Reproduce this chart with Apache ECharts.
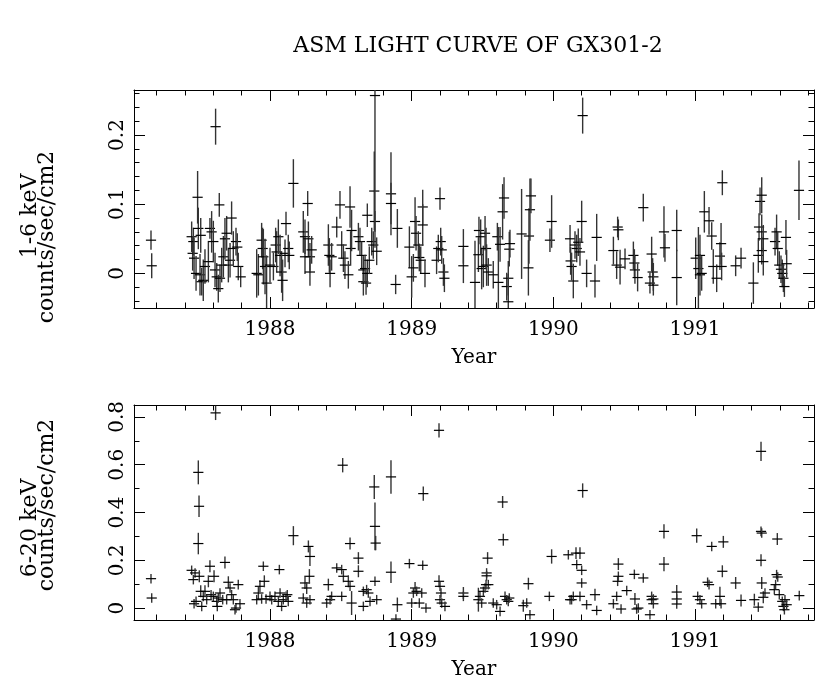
<!DOCTYPE html>
<html lang="en">
<head>
  <meta charset="UTF-8">
  <title>ASM light curve of GX301-2</title>
  <script src="https://cdn.jsdelivr.net/npm/echarts@6.0.0/dist/echarts.min.js"></script>
  <style>html, body { margin: 0; background: #fff; }</style>
</head>
<body>
  <div id="main" style="width: 822px; height: 692px;"></div>

  <script type="text/javascript">
    // tick values and labels
    const yearTicks = [1988, 1989, 1990, 1991];
    const yearMinor = [1987.2, 1987.4, 1987.6, 1987.8, 1988.2, 1988.4, 1988.6, 1988.8,
      1989.2, 1989.4, 1989.6, 1989.8, 1990.2, 1990.4, 1990.6, 1990.8,
      1991.2, 1991.4, 1991.6, 1991.8];
    const softTicks = [0, 0.1, 0.2];
    const softMinor = [-0.04, -0.02, 0.02, 0.04, 0.06, 0.08, 0.12, 0.14, 0.16, 0.18, 0.22, 0.24, 0.26];
    const hardTicks = [0, 0.2, 0.4, 0.6, 0.8];
    const hardMinor = [0.1, 0.3, 0.5, 0.7];

    // 1-6 keV : [year, rate, error]
    const softPoints = [
      [1987.160, 0.048, 0.014], [1987.165, 0.011, 0.018], [1987.447, 0.053, 0.022], [1987.454, 0.029, 0.025],
      [1987.459, 0.046, 0.020], [1987.464, 0.022, 0.030], [1987.478, 0.000, 0.025], [1987.489, 0.110, 0.038],
      [1987.494, 0.065, 0.030], [1987.506, -0.002, 0.030], [1987.511, 0.055, 0.025], [1987.518, -0.012, 0.020],
      [1987.529, -0.010, 0.030], [1987.541, 0.010, 0.025], [1987.565, 0.017, 0.030], [1987.576, 0.065, 0.015],
      [1987.588, 0.060, 0.030], [1987.600, 0.046, 0.030], [1987.612, 0.005, 0.025], [1987.616, 0.212, 0.026],
      [1987.624, -0.005, 0.020], [1987.635, -0.022, 0.020], [1987.642, 0.099, 0.017], [1987.647, -0.007, 0.020],
      [1987.659, 0.012, 0.025], [1987.671, 0.024, 0.030], [1987.682, 0.050, 0.030], [1987.694, 0.058, 0.025],
      [1987.706, 0.012, 0.025], [1987.718, 0.019, 0.025], [1987.729, 0.080, 0.024], [1987.741, 0.036, 0.025],
      [1987.760, 0.046, 0.020], [1987.769, 0.038, 0.020], [1987.776, 0.010, 0.020], [1987.793, -0.005, 0.015],
      [1987.906, 0.000, 0.035], [1987.918, -0.002, 0.030], [1987.941, 0.048, 0.025], [1987.948, 0.036, 0.030],
      [1987.953, 0.024, 0.040], [1987.965, 0.010, 0.040], [1987.976, -0.014, 0.040], [1988.000, 0.012, 0.025],
      [1988.024, 0.010, 0.020], [1988.040, 0.041, 0.025], [1988.047, 0.031, 0.030], [1988.059, 0.053, 0.025],
      [1988.071, 0.026, 0.030], [1988.082, 0.002, 0.030], [1988.089, -0.010, 0.030], [1988.106, 0.029, 0.020],
      [1988.113, 0.072, 0.017], [1988.129, 0.036, 0.020], [1988.136, 0.026, 0.020], [1988.165, 0.130, 0.035],
      [1988.235, 0.060, 0.030], [1988.247, 0.053, 0.025], [1988.247, 0.024, 0.025], [1988.266, 0.101, 0.018],
      [1988.271, 0.050, 0.025], [1988.282, 0.024, 0.020], [1988.282, 0.002, 0.020], [1988.294, 0.034, 0.020],
      [1988.412, 0.041, 0.030], [1988.419, 0.026, 0.025], [1988.424, 0.000, 0.020], [1988.435, 0.024, 0.020],
      [1988.471, 0.067, 0.015], [1988.494, 0.099, 0.020], [1988.506, 0.041, 0.020], [1988.518, 0.022, 0.020],
      [1988.529, 0.012, 0.020], [1988.553, -0.002, 0.020], [1988.565, 0.096, 0.030], [1988.569, 0.036, 0.025],
      [1988.576, 0.062, 0.030], [1988.624, 0.053, 0.020], [1988.635, 0.046, 0.020], [1988.647, 0.026, 0.020],
      [1988.659, -0.012, 0.020], [1988.659, 0.005, 0.020], [1988.671, 0.007, 0.020], [1988.678, -0.014, 0.017],
      [1988.687, 0.000, 0.020], [1988.687, 0.084, 0.017], [1988.701, 0.019, 0.020], [1988.718, 0.046, 0.020],
      [1988.729, 0.041, 0.020], [1988.736, 0.119, 0.057], [1988.741, 0.075, 0.015], [1988.741, 0.257, 0.220],
      [1988.753, 0.032, 0.020], [1988.854, 0.115, 0.060], [1988.854, 0.101, 0.030], [1988.887, -0.016, 0.014],
      [1988.899, 0.065, 0.028], [1988.984, 0.038, 0.030], [1989.000, -0.005, 0.030], [1989.012, 0.008, 0.020],
      [1989.024, 0.075, 0.035], [1989.031, 0.058, 0.025], [1989.047, 0.041, 0.020], [1989.054, 0.023, 0.020],
      [1989.064, 0.019, 0.020], [1989.078, 0.096, 0.025], [1989.078, 0.070, 0.030], [1989.094, 0.000, 0.020],
      [1989.176, 0.019, 0.020], [1989.188, 0.036, 0.020], [1989.200, 0.108, 0.016], [1989.205, 0.046, 0.020],
      [1989.212, 0.034, 0.020], [1989.224, 0.002, 0.020], [1989.231, -0.007, 0.020], [1989.365, 0.039, 0.025],
      [1989.365, 0.011, 0.025], [1989.447, -0.013, 0.060], [1989.471, 0.027, 0.025], [1989.475, 0.062, 0.020],
      [1989.487, 0.053, 0.025], [1989.494, 0.007, 0.030], [1989.506, 0.010, 0.030], [1989.518, 0.058, 0.025],
      [1989.525, 0.036, 0.030], [1989.529, 0.012, 0.030], [1989.541, 0.002, 0.020], [1989.576, -0.002, 0.020],
      [1989.605, 0.053, 0.020], [1989.612, -0.013, 0.080], [1989.624, 0.042, 0.025], [1989.642, 0.089, 0.040],
      [1989.652, 0.109, 0.030], [1989.671, -0.019, 0.020], [1989.682, -0.007, 0.025], [1989.682, -0.041, 0.040],
      [1989.689, 0.035, 0.025], [1989.694, 0.043, 0.020], [1989.776, 0.057, 0.065], [1989.824, 0.008, 0.040],
      [1989.828, 0.054, 0.040], [1989.835, 0.092, 0.045], [1989.842, 0.112, 0.025], [1989.976, 0.048, 0.017],
      [1989.988, 0.075, 0.038], [1990.118, 0.050, 0.020], [1990.122, 0.018, 0.020], [1990.129, 0.010, 0.020],
      [1990.141, -0.011, 0.025], [1990.153, 0.041, 0.020], [1990.165, 0.036, 0.020], [1990.176, 0.045, 0.020],
      [1990.188, 0.031, 0.020], [1990.200, 0.075, 0.030], [1990.207, 0.228, 0.026], [1990.235, 0.000, 0.020],
      [1990.294, -0.011, 0.024], [1990.306, 0.052, 0.034], [1990.424, 0.033, 0.020], [1990.447, 0.012, 0.020],
      [1990.454, 0.067, 0.015], [1990.459, 0.063, 0.015], [1990.471, 0.009, 0.025], [1990.506, 0.021, 0.015],
      [1990.565, 0.026, 0.020], [1990.572, 0.015, 0.020], [1990.576, 0.005, 0.020], [1990.595, -0.006, 0.020],
      [1990.635, 0.095, 0.020], [1990.682, -0.014, 0.015], [1990.694, 0.028, 0.025], [1990.701, 0.002, 0.020],
      [1990.706, -0.005, 0.020], [1990.706, -0.017, 0.015], [1990.781, 0.060, 0.037], [1990.788, 0.037, 0.020],
      [1990.871, 0.062, 0.030], [1990.871, -0.006, 0.040], [1991.005, 0.022, 0.030], [1991.024, 0.007, 0.060],
      [1991.035, 0.026, 0.030], [1991.035, -0.002, 0.030], [1991.047, 0.000, 0.025], [1991.066, 0.089, 0.030],
      [1991.099, 0.076, 0.020], [1991.118, 0.054, 0.020], [1991.129, 0.010, 0.025], [1991.153, -0.007, 0.020],
      [1991.176, 0.025, 0.020], [1991.184, 0.043, 0.030], [1991.188, 0.010, 0.020], [1991.193, 0.131, 0.018],
      [1991.287, 0.011, 0.015], [1991.325, 0.022, 0.015], [1991.412, -0.014, 0.030], [1991.447, 0.026, 0.025],
      [1991.452, 0.067, 0.020], [1991.459, 0.104, 0.020], [1991.471, 0.113, 0.026], [1991.471, 0.060, 0.025],
      [1991.482, 0.050, 0.020], [1991.471, 0.033, 0.020], [1991.482, 0.017, 0.020], [1991.565, 0.046, 0.020],
      [1991.576, 0.060, 0.025], [1991.584, 0.036, 0.025], [1991.595, 0.012, 0.020], [1991.607, 0.006, 0.020],
      [1991.616, 0.000, 0.020], [1991.624, -0.007, 0.020], [1991.631, -0.019, 0.015], [1991.642, 0.052, 0.025],
      [1991.647, 0.014, 0.020], [1991.734, 0.120, 0.043]
    ];

    // 6-20 keV : [year, rate, error]
    const hardPoints = [
      [1987.160, 0.123, 0.02], [1987.165, 0.042, 0.02], [1987.447, 0.158, 0.02], [1987.459, 0.119, 0.02],
      [1987.471, 0.147, 0.02], [1987.464, 0.018, 0.02], [1987.478, 0.028, 0.02], [1987.494, 0.568, 0.05],
      [1987.499, 0.426, 0.045], [1987.494, 0.270, 0.045], [1987.501, 0.133, 0.025], [1987.511, 0.070, 0.025],
      [1987.518, 0.007, 0.02], [1987.529, 0.049, 0.02], [1987.541, 0.070, 0.025], [1987.553, 0.035, 0.02],
      [1987.565, 0.112, 0.025], [1987.576, 0.175, 0.025], [1987.584, 0.056, 0.02], [1987.600, 0.049, 0.02],
      [1987.605, 0.133, 0.025], [1987.616, 0.817, 0.03], [1987.624, 0.028, 0.02], [1987.628, 0.007, 0.02],
      [1987.635, 0.042, 0.02], [1987.647, 0.063, 0.02], [1987.666, 0.035, 0.02], [1987.682, 0.191, 0.025],
      [1987.694, 0.035, 0.02], [1987.706, 0.108, 0.025], [1987.718, 0.084, 0.02], [1987.729, 0.056, 0.02],
      [1987.741, 0.035, 0.02], [1987.753, -0.007, 0.02], [1987.760, 0.000, 0.02], [1987.776, 0.098, 0.02],
      [1987.788, 0.018, 0.02], [1987.906, 0.035, 0.02], [1987.918, 0.063, 0.025], [1987.929, 0.091, 0.025],
      [1987.941, 0.038, 0.02], [1987.953, 0.175, 0.02], [1987.960, 0.112, 0.025], [1987.972, 0.038, 0.02],
      [1988.000, 0.049, 0.02], [1988.012, 0.035, 0.02], [1988.035, 0.049, 0.02], [1988.059, 0.028, 0.02],
      [1988.066, 0.161, 0.02], [1988.071, 0.063, 0.02], [1988.082, 0.007, 0.02], [1988.094, 0.035, 0.02],
      [1988.113, 0.049, 0.02], [1988.122, 0.056, 0.02], [1988.129, 0.028, 0.02], [1988.165, 0.303, 0.04],
      [1988.235, 0.042, 0.02], [1988.247, 0.105, 0.025], [1988.259, 0.084, 0.025], [1988.259, 0.021, 0.02],
      [1988.271, 0.258, 0.025], [1988.278, 0.133, 0.03], [1988.282, 0.216, 0.04], [1988.282, 0.035, 0.02],
      [1988.400, 0.021, 0.02], [1988.412, 0.098, 0.025], [1988.424, 0.035, 0.02], [1988.435, 0.049, 0.02],
      [1988.471, 0.168, 0.02], [1988.506, 0.161, 0.02], [1988.506, 0.049, 0.02], [1988.513, 0.598, 0.03],
      [1988.518, 0.133, 0.025], [1988.553, 0.112, 0.025], [1988.565, 0.270, 0.025], [1988.565, 0.091, 0.02],
      [1988.576, 0.021, 0.05], [1988.624, 0.209, 0.025], [1988.624, 0.154, 0.025], [1988.659, 0.070, 0.02],
      [1988.659, 0.007, 0.02], [1988.682, 0.077, 0.02], [1988.694, 0.063, 0.02], [1988.706, 0.028, 0.02],
      [1988.741, 0.112, 0.02], [1988.753, 0.035, 0.02], [1988.736, 0.507, 0.05], [1988.741, 0.342, 0.1],
      [1988.746, 0.272, 0.03], [1988.854, 0.549, 0.07], [1988.854, 0.150, 0.045], [1988.889, -0.046, 0.02],
      [1988.899, 0.014, 0.03], [1988.984, 0.186, 0.02], [1989.000, 0.021, 0.02], [1989.012, 0.063, 0.02],
      [1989.024, 0.084, 0.025], [1989.035, 0.070, 0.02], [1989.054, 0.021, 0.02], [1989.071, 0.063, 0.02],
      [1989.078, 0.179, 0.02], [1989.082, 0.479, 0.03], [1989.101, 0.000, 0.02], [1989.193, 0.744, 0.03],
      [1989.193, 0.112, 0.025], [1989.200, 0.091, 0.02], [1989.207, 0.063, 0.02], [1989.200, 0.035, 0.02],
      [1989.212, 0.021, 0.02], [1989.235, 0.007, 0.02], [1989.365, 0.063, 0.025], [1989.365, 0.049, 0.02],
      [1989.471, 0.035, 0.05], [1989.482, 0.049, 0.02], [1989.494, 0.021, 0.02], [1989.506, 0.070, 0.02],
      [1989.518, 0.084, 0.02], [1989.525, 0.098, 0.02], [1989.529, 0.147, 0.02], [1989.529, 0.135, 0.02],
      [1989.536, 0.209, 0.025], [1989.541, 0.098, 0.02], [1989.576, 0.021, 0.02], [1989.600, 0.014, 0.02],
      [1989.624, -0.014, 0.02], [1989.642, 0.444, 0.025], [1989.647, 0.286, 0.025], [1989.659, 0.049, 0.02],
      [1989.671, 0.035, 0.02], [1989.682, 0.028, 0.02], [1989.689, 0.042, 0.02], [1989.788, 0.010, 0.025],
      [1989.812, 0.021, 0.02], [1989.824, 0.102, 0.025], [1989.835, -0.028, 0.02], [1989.972, 0.049, 0.02],
      [1989.988, 0.216, 0.03], [1990.106, 0.223, 0.02], [1990.118, 0.035, 0.02], [1990.129, 0.035, 0.02],
      [1990.141, 0.049, 0.02], [1990.160, 0.230, 0.025], [1990.165, 0.182, 0.02], [1990.188, 0.230, 0.025],
      [1990.200, 0.158, 0.02], [1990.207, 0.492, 0.03], [1990.200, 0.105, 0.02], [1990.188, 0.049, 0.02],
      [1990.235, 0.014, 0.02], [1990.294, 0.056, 0.025], [1990.306, -0.010, 0.02], [1990.424, 0.018, 0.02],
      [1990.447, 0.049, 0.02], [1990.454, 0.112, 0.02], [1990.459, 0.133, 0.02], [1990.459, 0.184, 0.025],
      [1990.478, -0.004, 0.02], [1990.518, 0.073, 0.02], [1990.572, 0.141, 0.02], [1990.576, 0.038, 0.025],
      [1990.588, -0.004, 0.02], [1990.600, 0.000, 0.02], [1990.635, 0.126, 0.02], [1990.682, -0.028, 0.02],
      [1990.694, 0.049, 0.02], [1990.694, 0.035, 0.02], [1990.706, 0.018, 0.02], [1990.706, 0.038, 0.02],
      [1990.781, 0.321, 0.03], [1990.781, 0.184, 0.03], [1990.871, 0.067, 0.03], [1990.871, 0.038, 0.02],
      [1990.871, 0.017, 0.02], [1991.012, 0.303, 0.03], [1991.019, 0.049, 0.02], [1991.035, 0.035, 0.02],
      [1991.047, 0.018, 0.02], [1991.089, 0.108, 0.02], [1991.099, 0.098, 0.02], [1991.118, 0.258, 0.02],
      [1991.146, 0.018, 0.02], [1991.176, 0.049, 0.04], [1991.184, 0.018, 0.02], [1991.193, 0.154, 0.025],
      [1991.200, 0.277, 0.025], [1991.287, 0.105, 0.025], [1991.325, 0.032, 0.025], [1991.419, 0.035, 0.025],
      [1991.447, 0.004, 0.02], [1991.466, 0.656, 0.04], [1991.466, 0.321, 0.02], [1991.471, 0.314, 0.02],
      [1991.466, 0.200, 0.025], [1991.471, 0.105, 0.025], [1991.482, 0.045, 0.025], [1991.494, 0.063, 0.02],
      [1991.560, 0.077, 0.02], [1991.569, 0.098, 0.02], [1991.576, 0.140, 0.02], [1991.584, 0.130, 0.02],
      [1991.581, 0.289, 0.025], [1991.595, 0.056, 0.02], [1991.616, 0.028, 0.02], [1991.624, 0.007, 0.02],
      [1991.631, -0.007, 0.02], [1991.635, 0.035, 0.02], [1991.647, 0.014, 0.02], [1991.736, 0.052, 0.02]
    ];

    const FONT = 'DejaVu Serif';
    const XERR = 0.036; // half width of the time bins, years

    let myChart = echarts.init(document.getElementById('main'));

    // one axis of the frame: major ticks + labels, or only minor ticks
    function xAxis(grid, pos, ticks, len, labels) {
      return {
        type: 'value', gridIndex: grid, position: pos, min: 1987.04, max: 1991.84,
        axisLine: { show: len > 6, onZero: false, lineStyle: { color: '#000', width: 1 } },
        axisTick: { show: true, inside: true, length: len, customValues: ticks, lineStyle: { color: '#000' } },
        axisLabel: labels ? {
          show: true, customValues: ticks, margin: 12, color: '#000', fontFamily: FONT, fontSize: 20,
          formatter: v => String(v)
        } : { show: false },
        splitLine: { show: false },
        name: labels ? 'Year' : '', nameLocation: 'middle', nameGap: 40,
        nameTextStyle: { color: '#000', fontFamily: FONT, fontSize: 20 }
      };
    }

    function yAxis(grid, pos, range, ticks, len, labels) {
      return {
        type: 'value', gridIndex: grid, position: pos, min: range[0], max: range[1],
        axisLine: { show: len > 6, onZero: false, lineStyle: { color: '#000', width: 1 } },
        axisTick: { show: true, inside: true, length: len, customValues: ticks, lineStyle: { color: '#000' } },
        axisLabel: labels ? {
          show: true, customValues: ticks, rotate: 90, margin: 6, color: '#000', fontFamily: FONT, fontSize: 20,
          formatter: v => String(v)
        } : { show: false },
        splitLine: { show: false }
      };
    }

    function frameX(grid) {
      return [
        xAxis(grid, 'bottom', yearTicks, 11, true),
        xAxis(grid, 'bottom', yearMinor, 5.5, false),
        xAxis(grid, 'top', yearTicks, 11, false),
        xAxis(grid, 'top', yearMinor, 5.5, false)
      ];
    }

    function frameY(grid, range, major, minor) {
      return [
        yAxis(grid, 'left', range, major, 11, true),
        yAxis(grid, 'left', range, minor, 5.5, false),
        yAxis(grid, 'right', range, major, 11, false),
        yAxis(grid, 'right', range, minor, 5.5, false)
      ];
    }

    // error cross: vertical rate error, horizontal bin width
    function drawCross(params, api) {
      const x = api.value(0), y = api.value(1), e = api.value(2);
      const c = api.coord([x, y]);
      const hi = api.coord([x, y + e]);
      const lo = api.coord([x, y - e]);
      const l = api.coord([x - XERR, y]);
      const r = api.coord([x + XERR, y]);
      return {
        type: 'group',
        children: [
          { type: 'line', shape: { x1: c[0], y1: lo[1], x2: c[0], y2: hi[1] },
            style: { stroke: '#333', lineWidth: 1.4 } },
          { type: 'line', shape: { x1: l[0], y1: c[1], x2: r[0], y2: c[1] },
            style: { stroke: '#000', lineWidth: 1.2 } }
        ]
      };
    }

    const yTitles = [
      ['1-6 keV', 30, 216], ['counts/sec/cm2', 47, 237],
      ['6-20 keV', 30, 528], ['counts/sec/cm2', 47, 505]
    ];

    const options = {
      animation: false,
      backgroundColor: '#fff',
      title: {
        text: 'ASM LIGHT CURVE OF GX301-2', left: 473, top: 30, textAlign: 'center',
        textStyle: { color: '#000', fontFamily: FONT, fontSize: 22, fontWeight: 'normal' }
      },
      graphic: yTitles.map(t => ({
        type: 'text', x: t[1], y: t[2], rotation: Math.PI / 2,
        style: { text: t[0], fill: '#000', font: '22px "DejaVu Serif"', align: 'center', verticalAlign: 'middle' }
      })),
      grid: [
        { left: 134, top: 90, width: 680, height: 218 },
        { left: 134, top: 405, width: 680, height: 215 }
      ],
      xAxis: frameX(0).concat(frameX(1)),
      yAxis: frameY(0, [-0.05, 0.265], softTicks, softMinor)
        .concat(frameY(1, [-0.05, 0.85], hardTicks, hardMinor)),
      series: [
        { name: '1-6 keV', type: 'custom', xAxisIndex: 0, yAxisIndex: 0, clip: true, silent: true,
          encode: { x: 0, y: 1 }, data: softPoints, renderItem: drawCross },
        { name: '6-20 keV', type: 'custom', xAxisIndex: 4, yAxisIndex: 4, clip: true, silent: true,
          encode: { x: 0, y: 1 }, data: hardPoints, renderItem: drawCross }
      ]
    };

    myChart.setOption(options);
  </script>
</body>
</html>
